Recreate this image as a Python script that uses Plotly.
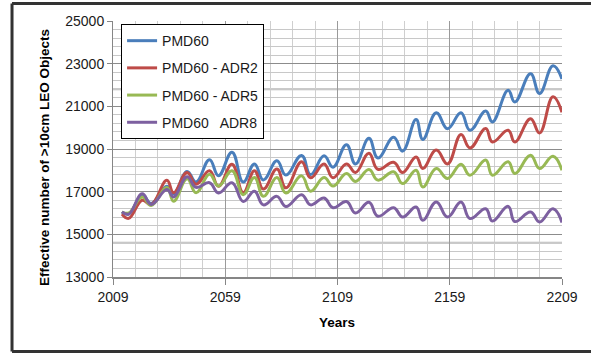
import plotly.graph_objects as go

# Turning-point years
years = [2013, 2016, 2022, 2026, 2033, 2036, 2042, 2046, 2052, 2056,
         2062, 2067, 2072, 2076, 2082, 2086, 2093, 2097, 2103, 2107,
         2113, 2117, 2123, 2127, 2134, 2138, 2144, 2147, 2153, 2158,
         2164, 2168, 2175, 2178, 2185, 2188, 2195, 2199, 2205, 2209]

pmd60 = [16050, 15950, 16850, 16450, 17250, 16900, 17950, 17450, 18500, 17750,
         18850, 17450, 18300, 17550, 18450, 17780, 18700, 17800, 18680, 18150,
         19200, 18300, 19500, 18580, 19550, 18900, 20380, 19450, 20700, 19950,
         20700, 19880, 20780, 20270, 21750, 21200, 22530, 21600, 22900, 22280]

adr2 = [15950, 15750, 16600, 16400, 17530, 16950, 17900, 17350, 17980, 17250,
        18280, 16950, 17980, 17120, 18060, 17180, 18400, 17650, 18300, 17650,
        18300, 17900, 18800, 18050, 18380, 17900, 18630, 18090, 18950, 18300,
        19680, 19050, 19960, 19330, 19880, 19330, 20420, 19750, 21450, 20720]

adr5 = [16050, 16000, 16750, 16350, 17200, 16550, 17600, 16950, 17820, 17260,
        17980, 16860, 17660, 16780, 17660, 16940, 17740, 17020, 17660, 17260,
        17850, 17480, 18040, 17540, 17930, 17380, 18000, 17220, 18085, 17620,
        18290, 17770, 18480, 17770, 18400, 17850, 18710, 18085, 18660, 18000]

adr8 = [16050, 15950, 16900, 16400, 17100, 16750, 17700, 17200, 17420, 16940,
        17420, 16540, 17020, 16380, 16780, 16300, 16860, 16380, 16700, 16250,
        16540, 16000, 16500, 15850, 16250, 15810, 16280, 15660, 16520, 15810,
        16520, 15740, 16200, 15620, 16310, 15600, 16050, 15580, 16200, 15550]

series_names = ["PMD60", "PMD60 - ADR2", "PMD60 - ADR5", "PMD60   ADR8"]
series_vals = [pmd60, adr2, adr5, adr8]
colors = ["#4A7EBB", "#BE4B48", "#98B954", "#7D60A0"]

x_ticks = [2009, 2059, 2109, 2159, 2209]
y_ticks = [13000, 15000, 17000, 19000, 21000, 23000, 25000]

fig = go.Figure()
for i, (name, vals, col) in enumerate(zip(series_names, series_vals, colors)):
    fig.add_trace(go.Scatter(
        x=years, y=vals, name=name, mode="lines",
        line=dict(color=col, width=3, shape="spline", smoothing=1.25),
        legendgroup=f"g{i}",
    ))

FONT = "Liberation Sans"

frame_left, frame_right, frame_bottom, frame_top = -0.2249, 1.3, -0.291, 1.068
frame_line = dict(color="#333333", width=3)

fig.update_layout(
    width=591, height=354,
    margin=dict(l=113, r=29, t=21, b=77),
    paper_bgcolor="white", plot_bgcolor="white",
    font=dict(family=FONT, size=14, color="#1a1a1a"),
    showlegend=True,
    legend=dict(
        x=0.018, y=0.988, xanchor="left", yanchor="top",
        bgcolor="white", bordercolor="#000000", borderwidth=1,
        font=dict(family=FONT, size=14, color="#1a1a1a"),
        tracegroupgap=6,
    ),
    xaxis=dict(
        range=[2009, 2209], tickmode="array", tickvals=x_ticks,
        ticktext=[str(v) for v in x_ticks],
        showgrid=True, gridcolor="#9a9a9a", gridwidth=1,
        minor=dict(dtick=10, tick0=2009, showgrid=True, gridcolor="#cfcfcf", gridwidth=1),
        showline=True, linecolor="#868686", linewidth=2,
        ticks="outside", ticklen=6, tickcolor="#868686",
        zeroline=False,
        tickfont=dict(family=FONT, size=14, color="#1a1a1a"),
    ),
    yaxis=dict(
        range=[13000, 25000], tickmode="array", tickvals=y_ticks,
        ticktext=[str(v) for v in y_ticks],
        showgrid=True, gridcolor="#8c8c8c", gridwidth=1,
        minor=dict(dtick=400, tick0=13000, showgrid=True, gridcolor="#c8c8c8", gridwidth=1),
        showline=True, linecolor="#868686", linewidth=1,
        ticks="outside", ticklen=5, tickcolor="#868686",
        zeroline=False,
        tickfont=dict(family=FONT, size=14, color="#1a1a1a"),
    ),
    shapes=[
        dict(type="line", xref="paper", yref="y", x0=0, x1=1, y0=21800, y1=21800,
             line=dict(color="#b8b8b8", width=2), layer="below"),
        dict(type="line", xref="paper", yref="y", x0=0, x1=1, y0=14600, y1=14600,
             line=dict(color="#b8b8b8", width=2), layer="below"),
        dict(type="line", xref="paper", yref="paper", x0=frame_left, x1=frame_left,
             y0=frame_bottom, y1=frame_top, line=frame_line),
        dict(type="line", xref="paper", yref="paper", x0=frame_left, x1=frame_right,
             y0=frame_top, y1=frame_top, line=frame_line),
        dict(type="line", xref="paper", yref="paper", x0=frame_left, x1=frame_right,
             y0=frame_bottom, y1=frame_bottom, line=frame_line),
    ],
    annotations=[
        dict(text="<b>Effective number of >10cm LEO Objects</b>", textangle=-90,
             xref="paper", yref="paper", x=-0.1514, y=0.465,
             xanchor="center", yanchor="middle", showarrow=False,
             font=dict(family=FONT, size=13.5, color="#000000")),
        dict(text="<b>Years</b>", xref="paper", yref="paper",
             x=0.499, y=-0.176, xanchor="center", yanchor="middle",
             showarrow=False,
             font=dict(family=FONT, size=13.5, color="#000000")),
    ],
)
fig.write_html("out.html")
